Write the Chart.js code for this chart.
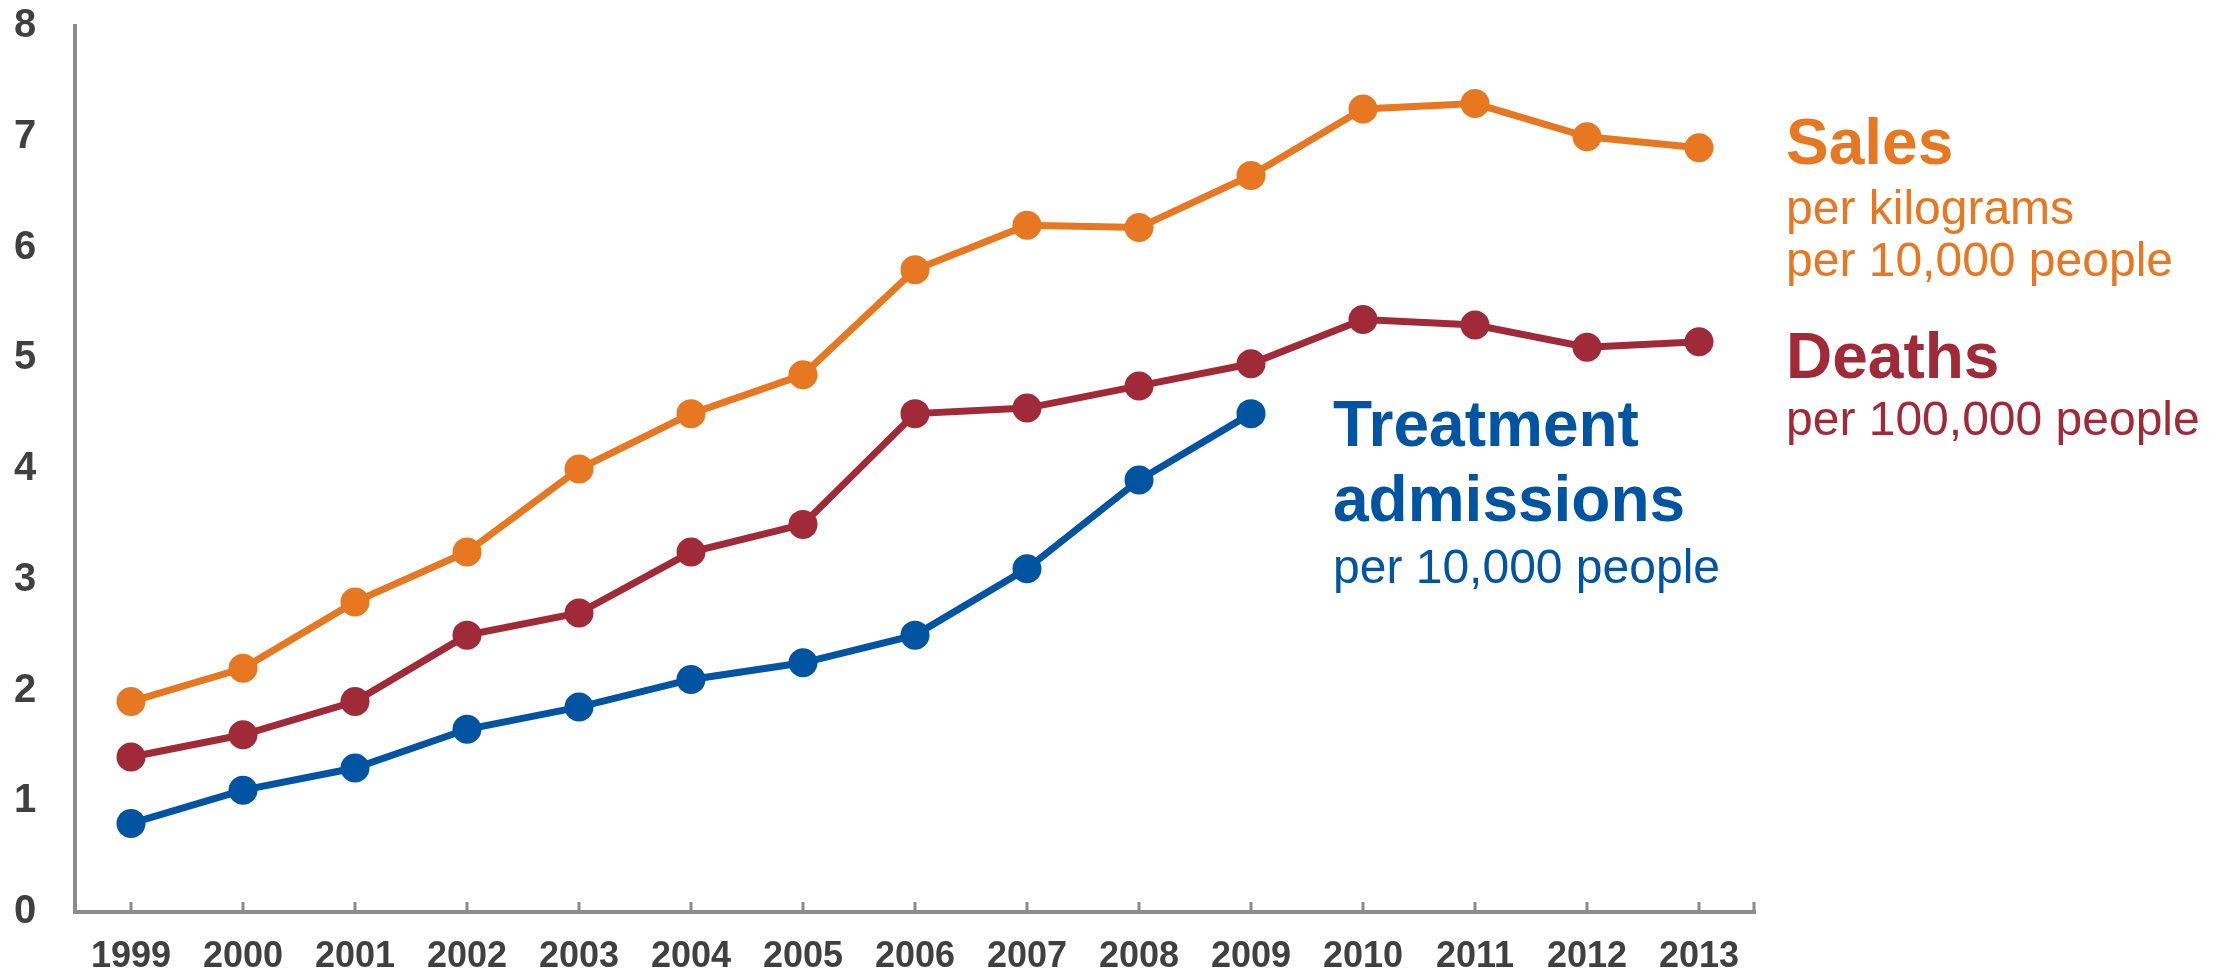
<!DOCTYPE html>
<html>
<head>
<meta charset="utf-8">
<script src="https://cdn.jsdelivr.net/npm/chart.js@4/dist/chart.umd.min.js"></script>
<style>
  html, body { margin: 0; padding: 0; background: #fff; }
  #wrap { width: 2224px; height: 973px; }
</style>
</head>
<body>
<div id="wrap"><canvas id="line-chart" width="2224" height="973"></canvas></div>
<script>
  // Data
  const years = ['1999', '2000', '2001', '2002', '2003', '2004', '2005', '2006',
                 '2007', '2008', '2009', '2010', '2011', '2012', '2013'];
  const salesData = [1.9, 2.2, 2.8, 3.25, 4.0, 4.5, 4.85, 5.8, 6.2, 6.18, 6.65, 7.25, 7.3, 7.0, 6.9];
  const deathsData = [1.4, 1.6, 1.9, 2.5, 2.7, 3.25, 3.5, 4.5, 4.55, 4.75, 4.95, 5.35, 5.3, 5.1, 5.15];
  const treatmentData = [0.8, 1.1, 1.3, 1.65, 1.85, 2.1, 2.25, 2.5, 3.1, 3.9, 4.5, null, null, null, null];

  const orange = '#e87722';
  const red = '#a12a38';
  const blue = '#0054a2';

  // Series labels written next to the lines
  const salesLabel = ['Sales', 'per kilograms', 'per 10,000 people'];
  const deathsLabel = ['Deaths', 'per 100,000 people'];
  const treatmentLabel = ['Treatment', 'admissions', 'per 10,000 people'];

  const FONT = '"Liberation Sans", Arial, sans-serif';

  // draws small tick marks and the series captions
  const extras = {
    id: 'extras',
    beforeDatasetsDraw(chart) {
      const { ctx, chartArea, scales: { x } } = chart;
      ctx.save();
      ctx.strokeStyle = '#8a8c8e';
      ctx.lineWidth = 3;
      const xs = years.map((_, i) => x.getPixelForValue(i)).concat([chartArea.right - 1]);
      xs.forEach(px => {
        ctx.beginPath();
        ctx.moveTo(px, chartArea.bottom);
        ctx.lineTo(px, chartArea.bottom - 10);
        ctx.stroke();
      });
      ctx.restore();
    },
    afterDraw(chart) {
      const { ctx, chartArea, scales: { x, y } } = chart;
      ctx.save();
      ctx.textAlign = 'left';
      ctx.textBaseline = 'alphabetic';

      const block = (lines, color, left, firstBase, gaps, boldCount) => {
        let base = firstBase;
        lines.forEach((t, i) => {
          ctx.fillStyle = color;
          ctx.font = i < boldCount ? 'bold 64px ' + FONT : '48px ' + FONT;
          ctx.fillText(t, left, base);
          base += gaps[i] || 0;
        });
      };

      const rightX = chartArea.right + 31;
      block(salesLabel, orange, rightX, y.getPixelForValue(6.75), [60, 52], 1);
      block(deathsLabel, red, rightX, y.getPixelForValue(4.82), [57], 1);
      block(treatmentLabel, blue, x.getPixelForValue(10) + 82, y.getPixelForValue(4.21), [75, 62], 2);
      ctx.restore();
    }
  };

  const ctx = document.getElementById('line-chart').getContext('2d');
  const lineChart = new Chart(ctx, {
    type: 'line',
    data: {
      labels: years,
      datasets: [
        { label: 'Sales', data: salesData, borderColor: orange, backgroundColor: orange },
        { label: 'Deaths', data: deathsData, borderColor: red, backgroundColor: red },
        { label: 'Treatment admissions', data: treatmentData, borderColor: blue, backgroundColor: blue }
      ]
    },
    options: {
      responsive: false,
      animation: false,
      devicePixelRatio: 1,
      layout: { padding: { top: 26, right: 469, left: 14, bottom: 0 } },
      elements: {
        line: { borderWidth: 7, tension: 0, fill: false },
        point: { radius: 14.5, hoverRadius: 14.5, borderWidth: 0 }
      },
      plugins: {
        legend: { display: false },
        tooltip: { enabled: false }
      },
      scales: {
        x: {
          offset: true,
          grid: { display: false },
          border: { display: true, color: '#8a8c8e', width: 4 },
          ticks: {
            color: '#404040',
            font: { family: FONT, size: 36, weight: 'bold' },
            padding: 15,
            maxRotation: 0,
            autoSkip: false
          },
          afterFit(scale) { scale.height = 61; }
        },
        y: {
          min: 0,
          max: 8,
          grid: { display: false, drawTicks: false },
          border: { display: true, color: '#8a8c8e', width: 4 },
          ticks: {
            stepSize: 1,
            color: '#404040',
            font: { family: FONT, size: 40, weight: 'bold' },
            padding: 0,
            crossAlign: 'far'
          },
          afterFit(scale) { scale.width = 61; }
        }
      }
    },
    plugins: [extras]
  });
</script>
</body>
</html>
